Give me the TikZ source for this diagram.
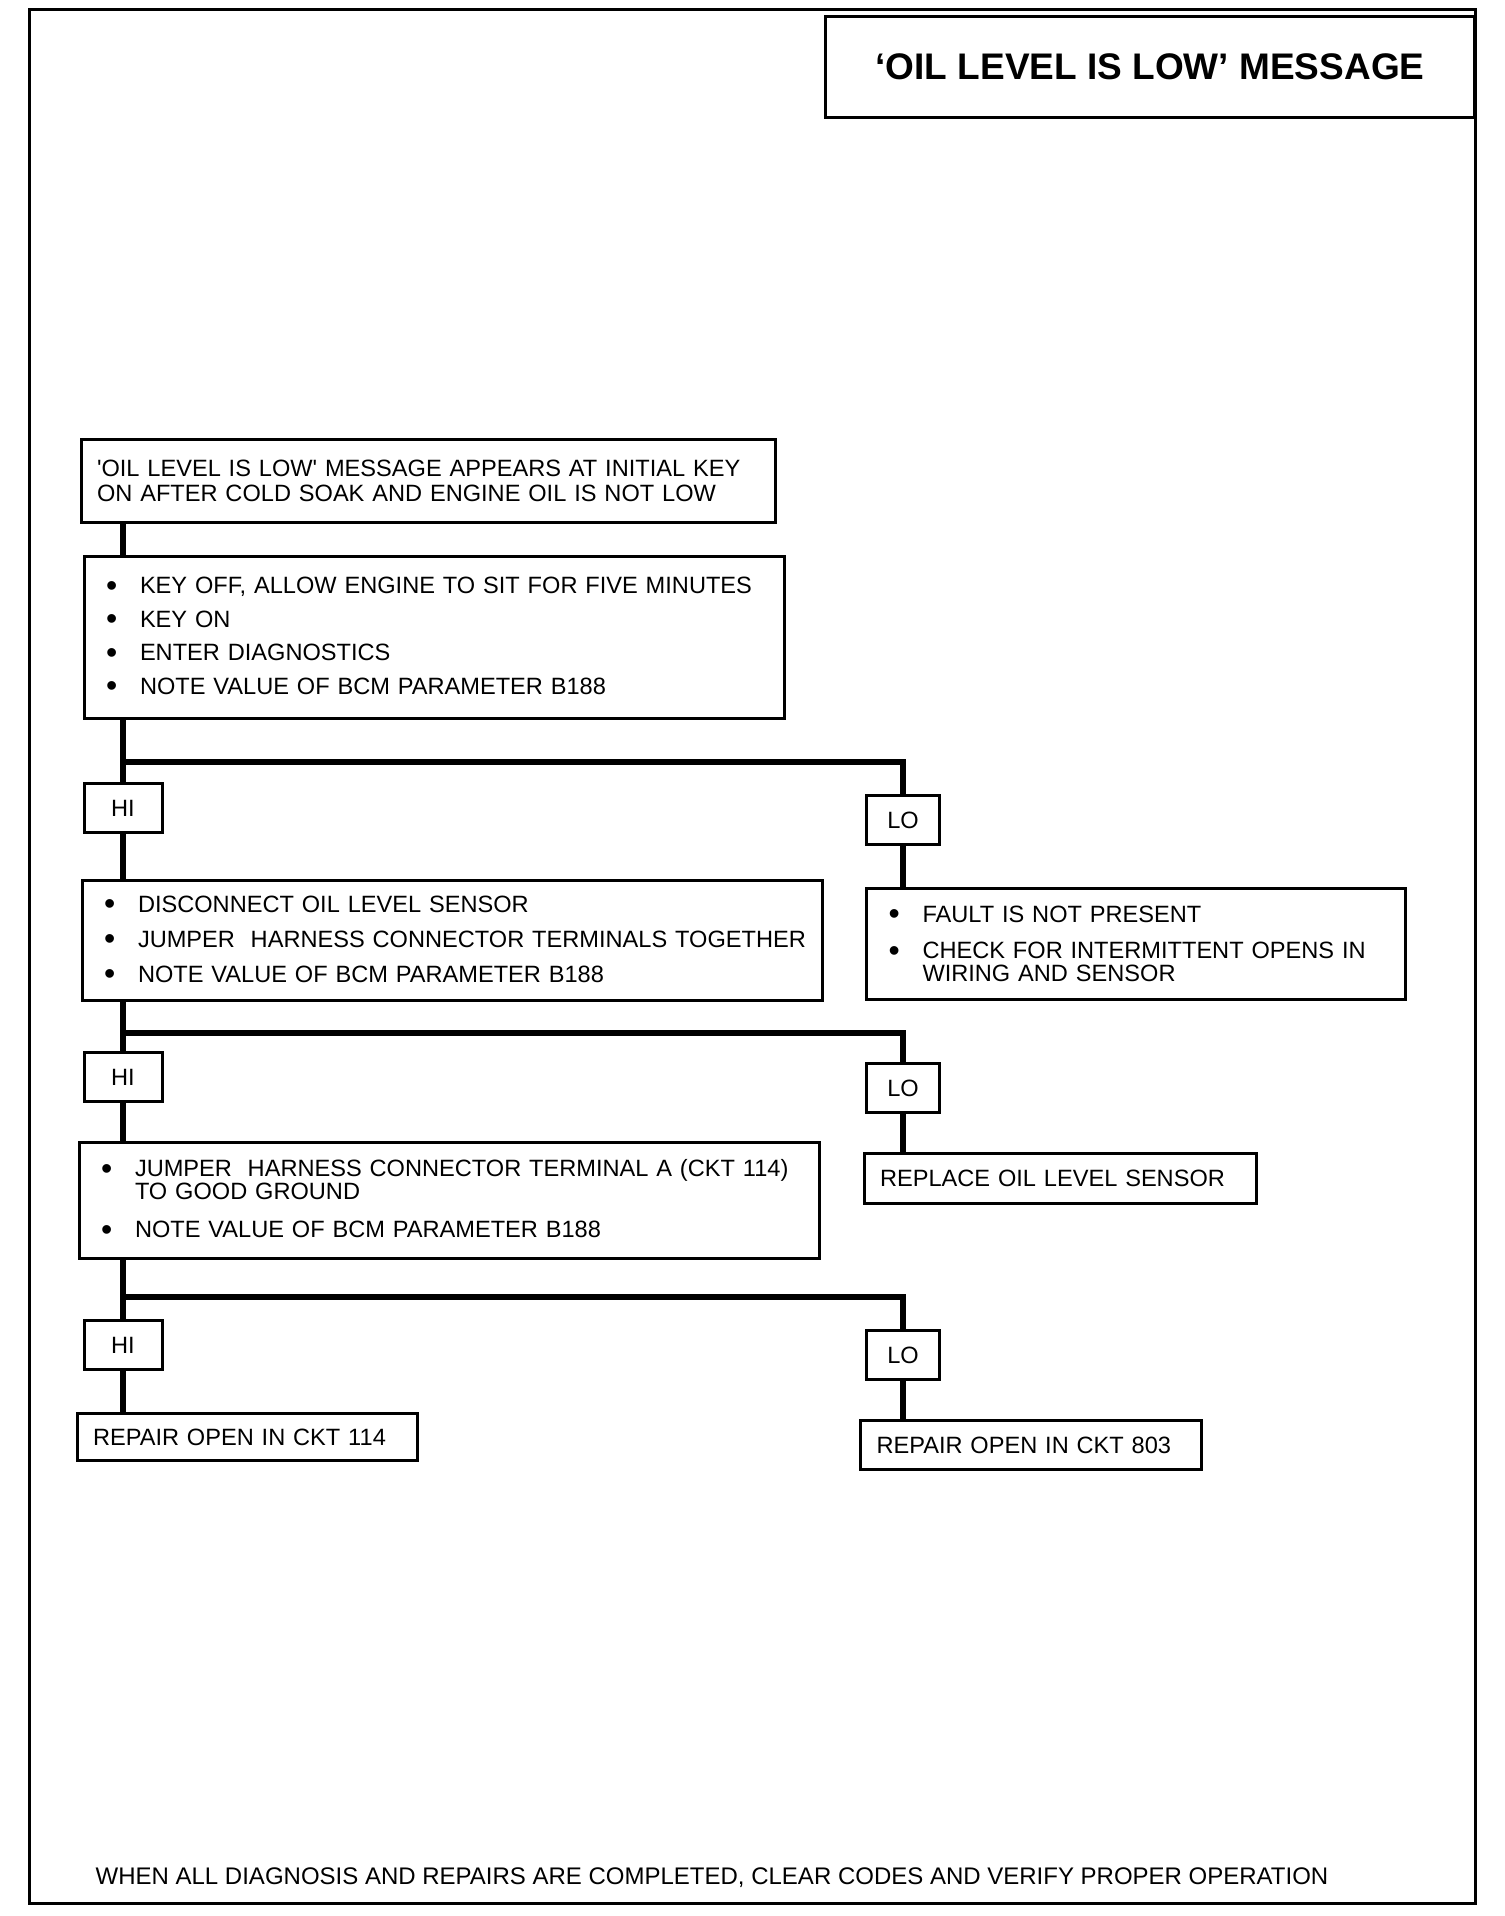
\documentclass[tikz,border=0pt]{standalone}
\usepackage{fontspec}
\setmainfont{Liberation Sans}
\newcommand{\blt}{\hspace*{3pt}\makebox[17pt][l]{\raisebox{-1.2pt}{\fontsize{16}{13}\selectfont\textbullet}}}
\newcommand{\indt}{\hspace*{20pt}}
\begin{document}
\begin{tikzpicture}[
                x = 0.5pt, y = -0.5pt,
                box/.style = {draw, line width = 1.5pt, inner xsep = 8pt, inner ysep = 0pt, align = left, font = \fontsize{11.8}{13}\selectfont},
                tag/.style = {draw, line width = 1.5pt, inner sep = 0pt, minimum width = 39pt, minimum height = 24.5pt, font = \fontsize{11.8}{13}\selectfont},
                link/.style = {draw, line width = 2.7pt},
            ]
            \useasboundingbox (0, 0) rectangle (1504, 1916);
            \draw[line width = 1.5pt] (29, 10) rectangle (1475, 1903);

            \node (title) at (1150, 67) [draw, line width = 1.5pt, minimum width = 324.5pt, minimum height = 50.5pt, font = \fontsize{18.5}{20}\selectfont\bfseries] {‘OIL LEVEL IS LOW’ MESSAGE};

            \node (start) at (428, 481) [box, text width = 331pt, minimum height = 41.5pt] {\textquotesingle OIL LEVEL IS LOW\textquotesingle\ MESSAGE APPEARS AT INITIAL KEY\\[-0.5pt] ON AFTER COLD SOAK AND ENGINE OIL IS NOT LOW};
            \node (keyoff) at (434, 637) [box, text width = 334pt, minimum height = 81pt] {\blt KEY OFF, ALLOW ENGINE TO SIT FOR FIVE MINUTES\\[3.8pt] \blt KEY ON\\[3.8pt] \blt ENTER DIAGNOSTICS\\[3.8pt] \blt NOTE VALUE OF BCM PARAMETER B188};

            \node (hi1) at (123, 808) [tag] {HI};
            \node (lo1) at (903, 820) [tag, minimum width = 36.5pt] {LO};
            \coordinate (j1) at (123, 762);

            \node (unplug) at (452, 940) [box, text width = 354pt, minimum height = 60pt] {\blt DISCONNECT OIL LEVEL SENSOR\\[4.5pt] \blt JUMPER \ HARNESS CONNECTOR TERMINALS TOGETHER\\[4.5pt] \blt NOTE VALUE OF BCM PARAMETER B188};
            \node (nofault) at (1136, 944) [box, text width = 253.5pt, minimum height = 55.5pt] {\blt FAULT IS NOT PRESENT\\[5.3pt] \blt CHECK FOR INTERMITTENT OPENS IN\\[-1.5pt] \indt WIRING AND SENSOR};

            \node (hi2) at (123, 1077) [tag] {HI};
            \node (lo2) at (903, 1088) [tag, minimum width = 36.5pt] {LO};
            \coordinate (j2) at (123, 1033);

            \node (ground) at (449, 1200) [box, text width = 354pt, minimum height = 58pt] {\blt JUMPER \ HARNESS CONNECTOR TERMINAL A (CKT 114)\\[-1.5pt] \indt TO GOOD GROUND\\[6pt] \blt NOTE VALUE OF BCM PARAMETER B188};
            \node (sensor) at (1060, 1178) [box, text width = 180pt, minimum height = 25pt] {REPLACE OIL LEVEL SENSOR};

            \node (hi3) at (123, 1345) [tag] {HI};
            \node (lo3) at (903, 1355) [tag, minimum width = 36.5pt] {LO};
            \coordinate (j3) at (123, 1297);

            \node (ckt114) at (247, 1437) [box, text width = 154pt, minimum height = 23.5pt] {REPAIR OPEN IN CKT 114};
            \node (ckt803) at (1031, 1445) [box, text width = 154.5pt, minimum height = 24.5pt] {REPAIR OPEN IN CKT 803};

            \node (note) at (712, 1878) [font = \fontsize{12}{13}\selectfont] {WHEN ALL DIAGNOSIS AND REPAIRS ARE COMPLETED, CLEAR CODES AND VERIFY PROPER OPERATION};

            \path[link] (start.south -| hi1) -- (keyoff.north -| hi1);
            \path[link] (keyoff.south -| hi1) -- (hi1.north);
            \path[link] (j1) -| (lo1.north);
            \path[link] (hi1.south) -- (hi1.south |- unplug.north);
            \path[link] (lo1.south) -- (lo1.south |- nofault.north);

            \path[link] (unplug.south -| hi2) -- (hi2.north);
            \path[link] (j2) -| (lo2.north);
            \path[link] (hi2.south) -- (hi2.south |- ground.north);
            \path[link] (lo2.south) -- (lo2.south |- sensor.north);

            \path[link] (ground.south -| hi3) -- (hi3.north);
            \path[link] (j3) -| (lo3.north);
            \path[link] (hi3.south) -- (hi3.south |- ckt114.north);
            \path[link] (lo3.south) -- (lo3.south |- ckt803.north);
        \end{tikzpicture}
\end{document}
